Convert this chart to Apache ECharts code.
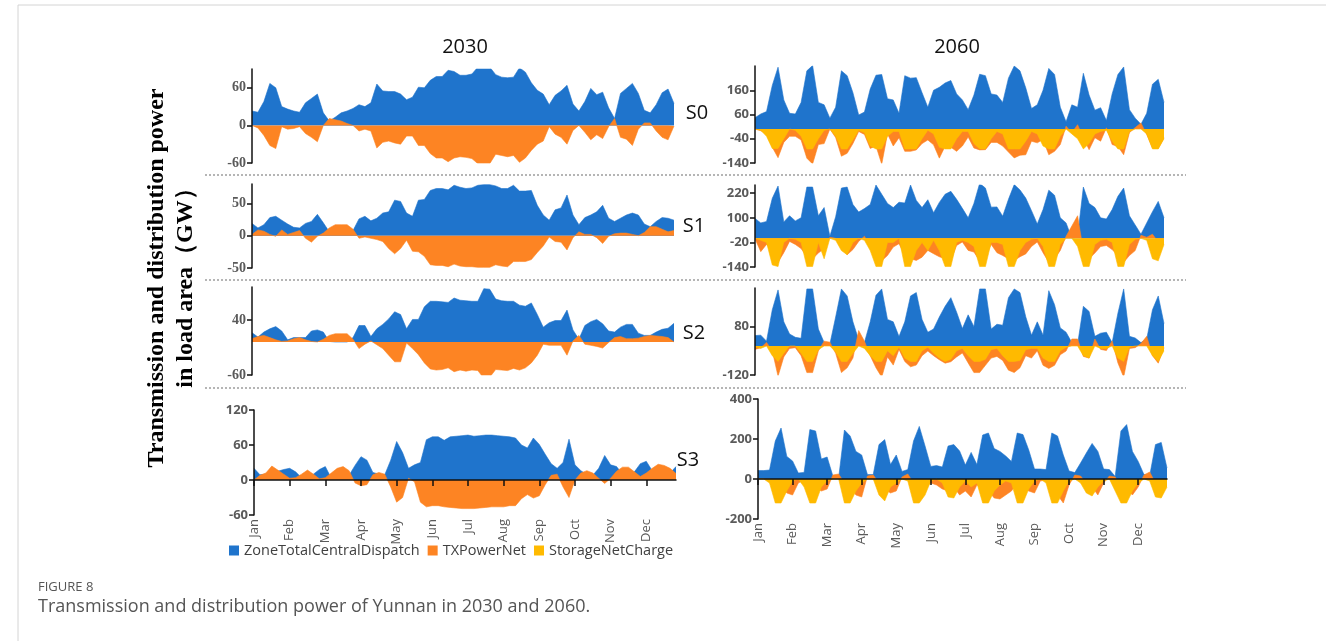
<!DOCTYPE html>
<html>
<head>
<meta charset="utf-8">
<script src="https://cdn.jsdelivr.net/npm/echarts@6.0.0/dist/echarts.min.js"></script>
<style>
  html, body { margin: 0; padding: 0; background: #fff; }
  #chart { width: 1326px; height: 641px; }
</style>
</head>
<body>
<div id="chart"></div>
<script>
// ---- categories ----
const MONTHS = ['Jan', 'Feb', 'Mar', 'Apr', 'May', 'Jun', 'Jul', 'Aug', 'Sep', 'Oct', 'Nov', 'Dec'];
const STEPS_PER_MONTH = 6;
const SERIES_NAMES = ['ZoneTotalCentralDispatch', 'TXPowerNet', 'StorageNetCharge'];
const YEARS = ['2030', '2060'];
const SCENARIOS = ['S0', 'S1', 'S2', 'S3'];

// ---- tick labels (GW) ----
const ticks2030 = [[-60, 0, 60], [-50, 0, 50], [-60, 40], [-60, 0, 60, 120]];
const ticks2060 = [[-140, -40, 60, 160], [-140, -20, 100, 220], [-120, 80], [-200, 0, 200, 400]];

// ---- 2030 (GW) ----
const dispatch2030S0 = [
  23, 21, 38, 67, 60, 30, 26, 23, 21, 36, 43, 50,
  20, 7, 13, 20, 23, 27, 33, 30, 36, 66, 55, 54,
  54, 50, 41, 45, 61, 60, 72, 78, 78, 88, 86, 80,
  80, 82, 93, 93, 93, 81, 77, 76, 77, 92, 85, 68,
  56, 50, 33, 48, 55, 64, 34, 23, 38, 59, 49, 53,
  28, 11, 51, 59, 67, 51, 24, 20, 33, 52, 58, 35];
const tx2030S0 = [
  0, -4, -16, -32, -37, -2, -6, -5, -2, -13, -19, -26,
  0, 11, 9, 7, 3, 0, -9, -6, -9, -36, -27, -25,
  -28, -30, -17, -17, -32, -32, -45, -52, -52, -58, -52, -50,
  -51, -53, -61, -61, -61, -46, -48, -50, -48, -59, -52, -40,
  -30, -25, -2, -14, -19, -30, -8, 0, -11, -23, -15, -21,
  -2, 11, -19, -22, -32, -6, 4, 4, -9, -19, -23, -1];

const dispatch2030S1 = [
  19, 12, 17, 28, 30, 24, 18, 13, 12, 19, 22, 33,
  20, 6, 2, 2, 3, 8, 26, 30, 23, 27, 35, 37,
  55, 53, 35, 30, 55, 56, 70, 73, 73, 71, 78, 75,
  73, 74, 78, 79, 79, 77, 73, 73, 78, 69, 69, 70,
  47, 32, 24, 40, 43, 63, 32, 17, 28, 32, 37, 47,
  27, 22, 27, 32, 35, 32, 18, 14, 22, 28, 27, 24];
const tx2030S1 = [
  2, 9, 7, 2, -1, 9, 2, 5, 8, -4, -10, -1,
  4, 12, 17, 17, 17, 10, -4, -2, -4, -6, -9, -20,
  -28, -20, -7, -24, -25, -32, -45, -46, -46, -48, -44, -47,
  -48, -48, -49, -49, -49, -45, -47, -48, -40, -40, -40, -37,
  -26, -16, -2, -9, -10, -22, -3, 6, 2, 2, -3, -12,
  -1, 3, 4, 4, 2, 0, 5, 14, 14, 10, 6, 8];

const dispatch2030S2 = [
  17, 9, 18, 24, 28, 20, 4, 8, 8, 8, 20, 22,
  18, 1, 0, 0, 0, 8, 30, 30, 10, 24, 32, 42,
  55, 50, 24, 41, 41, 64, 74, 74, 73, 72, 80, 76,
  75, 74, 74, 97, 96, 78, 75, 74, 74, 67, 65, 71,
  50, 27, 35, 39, 39, 58, 22, 5, 30, 37, 41, 33,
  20, 18, 27, 32, 32, 16, 12, 12, 18, 23, 25, 34];
const tx2030S2 = [
  6, 10, 12, 8, 4, 1, 2, 6, 8, 4, 1, 0,
  5, 12, 15, 15, 15, 5, -12, -4, 2, -5, -12, -24,
  -36, -36, -2, -12, -23, -38, -49, -51, -50, -47, -54, -51,
  -53, -51, -52, -66, -64, -50, -51, -52, -48, -51, -47, -38,
  -24, -4, -6, -6, -6, -24, 2, 12, -4, -6, -8, -11,
  -1, 8, 10, 6, 6, 7, 10, 12, 11, 10, 8, 0];

const dispatch2030S3 = [
  20, 9, 10, 12, 15, 18, 20, 14, 4, 3, 10, 18,
  23, 3, 3, 3, 8, 25, 40, 34, 13, 10, 9, 34,
  66, 47, 20, 26, 30, 69, 74, 74, 68, 74, 75, 76,
  77, 75, 76, 77, 77, 76, 75, 74, 72, 60, 55, 72,
  61, 44, 28, 20, 30, 70, 26, 16, 9, 8, 20, 42,
  26, 23, 10, 7, 14, 28, 32, 16, 9, 10, 12, 23];
const tx2030S3 = [
  0, 8, 12, 24, 17, 10, 3, 4, 10, 17, 10, 2,
  4, 12, 20, 23, 16, -5, -10, -8, 9, 13, 10, -12,
  -38, -30, 3, -3, -38, -46, -44, -44, -46, -47, -48, -49,
  -49, -49, -48, -47, -46, -46, -46, -44, -44, -32, -25, -31,
  -27, -8, 8, 10, -12, -30, 0, 12, 16, 12, 3, -6,
  3, 15, 22, 22, 14, 6, 12, 20, 27, 25, 20, 11];

// ---- 2060 (GW) ----
const dispatch2060S0 = [
  47, 62, 72, 180, 255, 120, 65, 62, 110, 240, 262, 110,
  100, 45, 90, 240, 220, 150, 58, 70, 165, 222, 225, 125,
  120, 65, 220, 210, 212, 150, 90, 160, 172, 190, 200, 145,
  120, 80, 140, 226, 220, 145, 140, 110, 210, 260, 240, 170,
  85, 100, 160, 250, 225, 90, 30, 100, 90, 230, 140, 78,
  88, 35, 145, 225, 256, 80, 45, 20, 65, 185, 205, 110];
const tx2060S0 = [
  0, -7, -20, -75, -118, -55, -30, -30, -45, -120, -144, -64,
  -60, 0, -35, -112, -100, -60, -10, -22, -80, -70, -145, -20,
  -70, -36, -92, -92, -86, -60, -45, -65, -120, -71, -75, -92,
  -70, -33, -78, -86, -85, -55, -55, -70, -95, -119, -108, -106,
  -50, -57, -43, -106, -92, -64, 12, -15, 18, -36, -85, -36,
  -50, 5, -64, -72, -106, -15, 6, 25, -22, -78, -80, -36];
const storage2060S0 = [
  0, -5, -30, -80, -80, -40, 0, -5, -30, -82, -82, -40,
  -5, 0, -30, -82, -82, -45, -5, -15, -70, -82, -82, -30,
  -10, -10, -82, -82, -82, -40, -5, -20, -75, -82, -82, -40,
  -10, -10, -60, -82, -82, -40, -10, -20, -82, -82, -82, -50,
  -10, -20, -70, -82, -82, -30, 0, -20, -40, -82, -60, -20,
  -10, -5, -50, -82, -82, -10, 0, 0, -20, -82, -82, -40];

const dispatch2060S1 = [
  97, 75, 82, 195, 255, 80, 110, 85, 100, 250, 250, 110,
  150, 10, 105, 245, 250, 165, 128, 145, 165, 260, 215, 170,
  150, 176, 172, 260, 185, 150, 188, 125, 175, 215, 229, 190,
  146, 100, 170, 268, 245, 152, 153, 108, 190, 262, 236, 196,
  135, 70, 140, 235, 210, 100, 75, 0, 7, 250, 170, 150,
  100, 94, 140, 205, 245, 110, 65, 20, 75, 130, 180, 100];
const tx2060S1 = [
  -2, -65, -30, -60, -117, -70, -15, -30, -50, -90, -100, -72,
  -50, 5, 0, -50, -80, -55, -15, 10, -40, -110, -110, -84,
  -43, -26, -84, -100, -108, -92, -59, -75, -90, -100, -108, -35,
  -18, -59, -67, -110, -90, -30, -70, -84, -100, -108, -90, -76,
  -40, -18, -70, -117, -100, -59, 10, 60, 110, -60, -100, -72,
  -40, -35, -55, -84, -117, -84, -60, 15, 5, 20, -18, -18];
const storage2060S1 = [
  0, -10, -20, -130, -138, -20, 0, -5, -20, -138, -138, -20,
  -100, 0, -10, -60, -80, -20, 0, -10, -60, -138, -138, -20,
  -20, 0, -138, -138, -60, -20, -60, -10, -60, -138, -138, -20,
  -10, -20, -40, -138, -138, -20, -20, -30, -138, -138, -60, -20,
  -5, 0, -40, -138, -138, -30, 0, 0, -40, -138, -138, -30,
  -10, -5, -20, -138, -138, -30, -5, 0, -10, -100, -110, -30];

const dispatch2060S2 = [
  43, 45, 20, 150, 232, 100, 50, 36, 32, 236, 236, 70,
  15, 8, 120, 236, 207, 100, 25, 15, 100, 210, 236, 110,
  100, 39, 100, 207, 221, 110, 57, 70, 120, 164, 200, 140,
  72, 129, 80, 236, 236, 70, 90, 86, 200, 236, 221, 121,
  45, 100, 45, 229, 171, 75, 57, 14, 7, 164, 143, 40,
  53, 57, 14, 136, 236, 40, 33, 14, 29, 150, 207, 93];
const tx2060S2 = [
  -14, -7, 15, -20, -125, -45, -10, -7, -40, -110, -110, -20,
  20, 16, -30, -110, -90, -50, 64, 20, -40, -90, -129, -45,
  -79, -14, -64, -86, -79, -40, -21, -40, -57, -71, -65, -45,
  -29, -70, -110, -110, -80, -50, -43, -60, -100, -110, -90, -40,
  -50, -20, -80, -93, -80, -36, -21, 29, 29, -43, -50, 29,
  -14, -19, 21, -70, -129, -10, -7, 10, 40, -40, -71, -7];
const storage2060S2 = [
  -3, -10, 0, -40, -64, -30, 0, 0, -30, -64, -64, -15,
  0, 0, -25, -64, -64, -30, 0, -10, -40, -64, -64, -20,
  -40, -5, -50, -64, -64, -20, -5, -30, -50, -64, -55, -20,
  -10, -40, -64, -64, -55, -15, -10, -40, -64, -64, -60, -15,
  -10, -10, -50, -64, -64, -20, -5, 0, 0, -40, -50, 0,
  -10, -10, 0, -50, -64, -5, 0, 0, 0, -40, -64, -20];

const dispatch2060S3 = [
  42, 42, 45, 190, 255, 113, 90, 30, 33, 247, 240, 100,
  110, 15, 5, 245, 215, 138, 120, 22, 22, 172, 197, 72,
  120, 38, 47, 190, 263, 165, 63, 67, 60, 165, 172, 140,
  70, 133, 72, 220, 230, 152, 138, 115, 88, 230, 222, 145,
  50, 50, 47, 230, 215, 120, 40, 32, 80, 130, 178, 138,
  50, 47, 13, 240, 272, 138, 88, 22, 17, 172, 183, 55];
const tx2060S3 = [
  0, 0, 0, -10, -30, -70, -80, -20, -5, -20, -40, -60,
  -50, 20, 25, -20, -40, -80, -90, 15, 20, -20, -50, -70,
  -60, 10, 25, -20, -40, -40, -20, -30, -50, -60, -40, -80,
  -60, -90, -30, -40, -60, -95, -100, -80, -60, -20, -40, -60,
  -70, -10, -5, -40, -80, -120, -30, 20, 15, -20, -40, -80,
  -20, 15, 10, -30, -50, -80, -40, 20, 35, -20, -40, -20];
const storage2060S3 = [
  0, 0, -20, -120, -120, -60, -10, 0, -40, -120, -120, -40,
  -10, 0, 0, -120, -120, -60, -20, 0, 0, -80, -110, -40,
  -20, 0, -10, -120, -120, -80, -10, 0, -20, -90, -95, -40,
  -10, -40, -20, -120, -120, -60, -30, -10, -20, -120, -120, -50,
  -10, 0, -20, -120, -120, -60, -10, 0, -20, -70, -85, -40,
  -10, 0, -60, -120, -120, -60, -20, 0, -10, -90, -95, -40];

// ---- panel contents: [dispatch, tx, storage] per year / scenario ----
const panelData = {
  '2030': [
    [dispatch2030S0, tx2030S0, null],
    [dispatch2030S1, tx2030S1, null],
    [dispatch2030S2, tx2030S2, null],
    [dispatch2030S3, tx2030S3, null]
  ],
  '2060': [
    [dispatch2060S0, tx2060S0, storage2060S0],
    [dispatch2060S1, tx2060S1, storage2060S1],
    [dispatch2060S2, tx2060S2, storage2060S2],
    [dispatch2060S3, tx2060S3, storage2060S3]
  ]
};
const panelTicks = { '2030': ticks2030, '2060': ticks2060 };

// ---- layout (pixels) and axis ranges ----
const layout = {
  '2030': [
    { left: 252, width: 422, top: 69,  height: 94,  min: -60,  max: 90 },
    { left: 252, width: 422, top: 184, height: 84,  min: -50,  max: 80 },
    { left: 252, width: 422, top: 287, height: 88,  min: -60,  max: 100 },
    { left: 254, width: 422, top: 410, height: 105, min: -60,  max: 120 }
  ],
  '2060': [
    { left: 755, width: 409, top: 66,  height: 97,  min: -140, max: 260 },
    { left: 755, width: 409, top: 185, height: 82,  min: -140, max: 260 },
    { left: 755, width: 409, top: 288, height: 87,  min: -120, max: 240 },
    { left: 758, width: 409, top: 399, height: 120, min: -200, max: 400 }
  ]
};

const COLORS = ['#1f74cc', '#fd8423', '#ffba00'];
const SANS = '"Open Sans", "Noto Sans", sans-serif';
const SERIF = '"Liberation Serif", "DejaVu Serif", serif';
const LABEL_GREY = '#5a5a5a';

const timepoints = [];
MONTHS.forEach(m => { for (let s = 1; s <= STEPS_PER_MONTH; s++) timepoints.push(m + ' ' + s); });

const grids = [], xAxes = [], yAxes = [], series = [];

YEARS.forEach(year => {
  SCENARIOS.forEach((sc, r) => {
    const idx = grids.length;
    const L = layout[year][r];
    const bottomRow = r === SCENARIOS.length - 1;
    const serifTicks = year === '2030' && !bottomRow;
    grids.push({ left: L.left, top: L.top, width: L.width, height: L.height });

    xAxes.push({
      gridIndex: idx,
      type: 'category',
      data: timepoints,
      boundaryGap: false,
      z: 10,
      axisLine: { show: bottomRow, onZero: true, lineStyle: { color: '#111', width: 1.5 } },
      axisTick: { show: bottomRow, interval: STEPS_PER_MONTH - 1, length: 6, lineStyle: { color: '#111', width: 1.5 } },
      axisLabel: {
        show: bottomRow,
        interval: STEPS_PER_MONTH - 1,
        rotate: 90,
        margin: 4,
        padding: [0, 0, 8, 0],
        color: LABEL_GREY,
        fontFamily: SANS,
        fontSize: 13,
        formatter: v => v.split(' ')[0]
      },
      splitLine: { show: false }
    });

    const ticks = panelTicks[year][r];
    yAxes.push({
      gridIndex: idx,
      type: 'value',
      min: L.min,
      max: L.max,
      z: 10,
      axisLine: { show: true, onZero: false, lineStyle: { color: '#111', width: 1.5 } },
      axisTick: { show: true, customValues: ticks, length: 5, lineStyle: { color: '#111', width: 1.5 } },
      axisLabel: {
        customValues: ticks,
        margin: 6,
        color: LABEL_GREY,
        fontWeight: 'bold',
        fontFamily: serifTicks ? SERIF : SANS,
        fontSize: serifTicks ? 14 : 13
      },
      splitLine: { show: false }
    });

    panelData[year][r].forEach((values, k) => {
      if (!values) return;
      series.push({
        type: 'line',
        name: SERIES_NAMES[k],
        xAxisIndex: idx,
        yAxisIndex: idx,
        data: values,
        symbol: 'none',
        color: COLORS[k],
        lineStyle: { width: 0.6, color: COLORS[k] },
        areaStyle: { color: COLORS[k], opacity: 1 },
        emphasis: { disabled: true },
        z: 2 + k
      });
    });
  });
});

// ---- static text and separators ----
const graphic = [
  { type: 'line', shape: { x1: 18, y1: 5, x2: 1326, y2: 5 }, style: { stroke: '#d4d4d4', lineWidth: 1 } },
  { type: 'line', shape: { x1: 18, y1: 5, x2: 18, y2: 641 }, style: { stroke: '#d4d4d4', lineWidth: 1 } },
  { type: 'text', x: 465, y: 47, style: { text: YEARS[0], font: '20px ' + SANS, fill: '#111', textAlign: 'center', textVerticalAlign: 'middle' } },
  { type: 'text', x: 957, y: 47, style: { text: YEARS[1], font: '20px ' + SANS, fill: '#111', textAlign: 'center', textVerticalAlign: 'middle' } },
  { type: 'text', x: 157, y: 278, rotation: Math.PI / 2, style: { text: 'Transmission and distribution power', font: 'bold 24px ' + SERIF, fill: '#000', textAlign: 'center', textVerticalAlign: 'middle' } },
  { type: 'text', x: 186, y: 282, rotation: Math.PI / 2, style: { text: 'in load area\uFF08GW\uFF09', font: 'bold 24px ' + SERIF, fill: '#000', textAlign: 'center', textVerticalAlign: 'middle' } },
  { type: 'text', x: 0, y: 587, style: { text: 'FIGURE 8', x: 38, font: '13px ' + SANS, fill: '#555', textVerticalAlign: 'middle' } },
  { type: 'text', x: 0, y: 607, style: { text: 'Transmission and distribution power of Yunnan in 2030 and 2060.', x: 38, font: '18px ' + SANS, fill: '#555', textVerticalAlign: 'middle' } }
];
const scenarioPos = [[697, 113], [694, 226], [694, 333], [688, 460]];
SCENARIOS.forEach((sc, r) => {
  graphic.push({ type: 'text', x: scenarioPos[r][0], y: scenarioPos[r][1], style: { text: sc, font: '20px ' + SANS, fill: '#111', textAlign: 'center', textVerticalAlign: 'middle' } });
});
[175, 280, 388].forEach(y => {
  graphic.push({ type: 'line', shape: { x1: 205, y1: y, x2: 1186, y2: y }, style: { stroke: '#b5b5b5', lineWidth: 2, lineDash: [2, 2] } });
});

const chart = echarts.init(document.getElementById('chart'), null, { renderer: 'canvas' });
chart.setOption({
  backgroundColor: '#fff',
  animation: false,
  grid: grids,
  xAxis: xAxes,
  yAxis: yAxes,
  series: series,
  legend: {
    data: SERIES_NAMES,
    left: 224,
    top: 538,
    icon: 'rect',
    itemWidth: 10,
    itemHeight: 10,
    itemGap: 8,
    selectedMode: false,
    textStyle: { fontFamily: SANS, fontSize: 14.5, color: '#404040' }
  },
  graphic: graphic
});
</script>
</body>
</html>
